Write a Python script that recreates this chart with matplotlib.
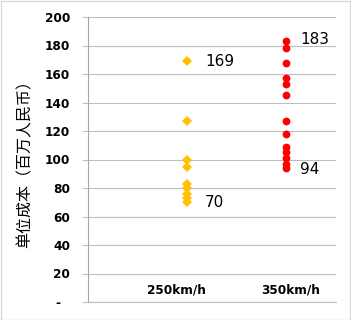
import matplotlib.pyplot as plt
from matplotlib.patches import Rectangle

plt.rcParams['font.family'] = ['DejaVu Sans', 'Noto Sans CJK SC']

# data
categories = ["250km/h", "350km/h"]
cat_pos = [1, 2]
label_pos = [0.89, 2.04]
cost_250 = [169, 127, 100, 95, 83, 80, 76, 73, 70]
cost_350 = [183, 178, 168, 157, 153, 145, 127, 118, 109, 105, 101, 97, 94]
yticks = [0, 20, 40, 60, 80, 100, 120, 140, 160, 180, 200]
ytick_labels = ["-  "] + [str(v) for v in yticks[1:]]

fig = plt.figure(figsize=(3.51, 3.2), dpi=100)
ax = fig.add_axes([88 / 351, 18 / 320, 248 / 351, 285 / 320])

ax.plot([cat_pos[0]] * len(cost_250), cost_250, linestyle="none",
        marker="D", markersize=4.8, color="#FFC000", markeredgewidth=0)
ax.plot([cat_pos[1]] * len(cost_350), cost_350, linestyle="none",
        marker="o", markersize=5.6, color="#FF0000", markeredgewidth=0)

# value annotations for min / max
ax.text(cat_pos[0] + 0.18, max(cost_250), str(max(cost_250)),
        fontsize=11, va="center", ha="left")
ax.text(cat_pos[0] + 0.18, min(cost_250), str(min(cost_250)),
        fontsize=11, va="center", ha="left")
ax.text(cat_pos[1] + 0.14, max(cost_350) + 1, str(max(cost_350)),
        fontsize=11, va="center", ha="left")
ax.text(cat_pos[1] + 0.14, min(cost_350) - 1, str(min(cost_350)),
        fontsize=11, va="center", ha="left")

# category labels sit just above the x axis
for x, lab in zip(label_pos, categories):
    ax.text(x, 8.5, lab, fontsize=8.7, fontweight="bold",
            ha="center", va="center")

ax.set_xlim(0, 2.5)
ax.set_ylim(0, 200)
ax.set_xticks([])
ax.set_yticks(yticks)
ax.set_yticklabels(ytick_labels, fontsize=8.7, fontweight="bold")
ax.tick_params(axis="y", length=4, width=0.8, color="#BEBEBE", pad=9)
ax.grid(axis="y", color="#BEBEBE", linewidth=0.8)
ax.set_axisbelow(True)

for side in ["top", "right"]:
    ax.spines[side].set_visible(False)
ax.spines["left"].set_color("#A6A6A6")
ax.spines["bottom"].set_color("#BEBEBE")
ax.spines["left"].set_linewidth(0.8)
ax.spines["bottom"].set_linewidth(0.8)

ax.set_ylabel("单位成本（百万人民币）", fontsize=11.5,
              family=["Noto Sans CJK SC", "DejaVu Sans"], labelpad=8)

fig.patches.append(Rectangle((0.5 / 351, 0.5 / 320), 349.5 / 351, 318.5 / 320,
                             transform=fig.transFigure, fill=False,
                             edgecolor="#D9D9D9", linewidth=1))

fig.savefig("out.png", dpi=100)
